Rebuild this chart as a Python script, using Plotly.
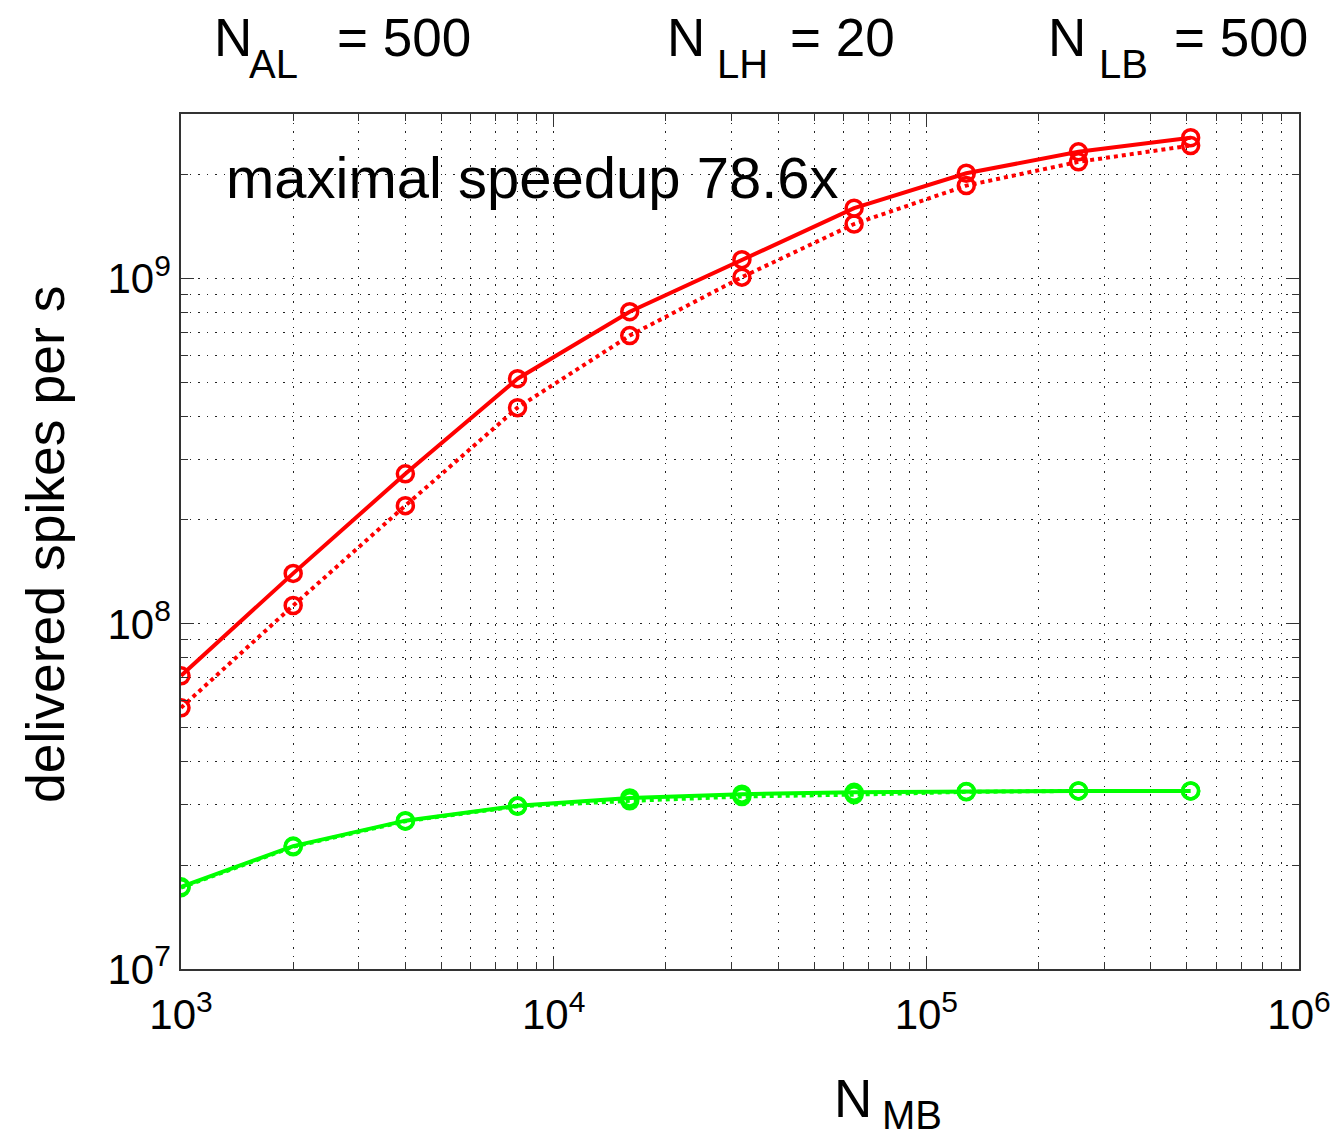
import plotly.graph_objects as go

# ---- data ----
n_mb = [1000, 2000, 4000, 8000, 16000, 32000, 64000, 128000, 256000, 512000]
red_solid = [7.07e7, 1.40e8, 2.72e8, 5.13e8, 8.02e8, 1.135e9, 1.60e9, 2.02e9, 2.33e9, 2.56e9]
red_dotted = [5.71e7, 1.13e8, 2.20e8, 4.23e8, 6.84e8, 1.01e9, 1.44e9, 1.86e9, 2.18e9, 2.43e9]
green_solid = [1.73e7, 2.27e7, 2.69e7, 2.97e7, 3.13e7, 3.21e7, 3.25e7, 3.27e7, 3.28e7, 3.28e7]
green_dotted = [1.72e7, 2.26e7, 2.68e7, 2.96e7, 3.07e7, 3.16e7, 3.20e7, 3.26e7, 3.28e7, 3.28e7]

x_tickvals = [1e3, 1e4, 1e5, 1e6]
x_exponents = ["3", "4", "5", "6"]
y_tickvals = [1e7, 1e8, 1e9]
y_exponents = ["7", "8", "9"]

top_names = ["AL", "LH", "LB"]
top_values = ["500", "20", "500"]
annotation_text = "maximal speedup 78.6x"
x_title_sub = "MB"
y_title = "delivered spikes per s"

FONT = "Liberation Sans, Arial, Helvetica, sans-serif"
RED = "#ff0000"
GREEN = "#00ff00"
BIG = 53
SUB = 40


def sup(e):
    return "10<sup><span style='font-size:30px'>%s</span></sup>" % e


fig = go.Figure()
series = [
    (red_dotted, RED, "dot"),
    (red_solid, RED, "solid"),
    (green_dotted, GREEN, "dot"),
    (green_solid, GREEN, "solid"),
]
for ys, col, dash in series:
    fig.add_trace(go.Scatter(
        x=n_mb, y=ys, mode="lines+markers",
        line=dict(color=col, width=4, dash=dash),
        marker=dict(symbol="circle-open", size=16, color=col, line=dict(width=3.5, color=col)),
        showlegend=False,
    ))

# page pixel geometry (the page body adds an 8px offset)
OFF = 8
W, H = 1338 - OFF, 1144 - OFF
PL, PR, PT, PB = 181, 1299, 114, 969  # plot area in page pixels
fig.update_layout(
    width=W, height=H,
    margin=dict(l=PL - OFF, r=W - (PR - OFF), t=PT - OFF, b=H - (PB - OFF), autoexpand=False),
    paper_bgcolor="white", plot_bgcolor="white",
    font=dict(family=FONT, color="black"),
    showlegend=False,
)

GRID = dict(gridcolor="#222222", gridwidth=1, griddash="1.5px,7px")
axis_common = dict(
    type="log", automargin=False,
    showline=True, linecolor="#333333", linewidth=1.5, mirror="ticks",
    ticks="inside", ticklen=13, tickwidth=1.2, tickcolor="#333333",
    showgrid=True, zeroline=False,
    tickfont=dict(family=FONT, size=42, color="black"),
    minor=dict(dtick="D1", ticks="inside", ticklen=7, tickcolor="#333333", showgrid=True, **GRID),
    **GRID,
)
fig.update_xaxes(range=[3, 6], tickvals=x_tickvals, ticktext=[sup(e) for e in x_exponents],
                 ticklabelstandoff=8, **axis_common)
fig.update_yaxes(range=[7, 9.477], tickvals=y_tickvals, ticktext=[sup(e) for e in y_exponents],
                 ticklabelstandoff=0, **axis_common)


def px_x(p):
    return (p - PL) / (PR - PL)


def px_y(p):
    return (PB - p) / (PB - PT)


anns = []


def put(text, x, y, size, anchor="left", angle=0):
    anns.append(dict(text=text, x=px_x(x), y=px_y(y), xref="paper", yref="paper",
                     showarrow=False, xanchor=anchor, yanchor="middle", textangle=angle,
                     borderpad=0, font=dict(family=FONT, size=size, color="black")))


# top header labels: N, subscript, "= value"
n_x = [213, 666, 1047]
sub_x = [248, 716, 1098]
eq_x = [336, 789, 1173]
for name, val, nx, sx, ex in zip(top_names, top_values, n_x, sub_x, eq_x):
    put("N", nx, 37, BIG)
    put(name, sx, 64, SUB)
    put("= " + val, ex, 37, BIG)

put(annotation_text, 225, 177, 58)

# x-axis title
put("N", 833, 1098, BIG)
put(x_title_sub, 881, 1115, SUB)

# y-axis title
put(y_title, 45, 545, 53.5, anchor="center", angle=-90)

fig.update_layout(annotations=anns)

fig.write_html("out.html")
